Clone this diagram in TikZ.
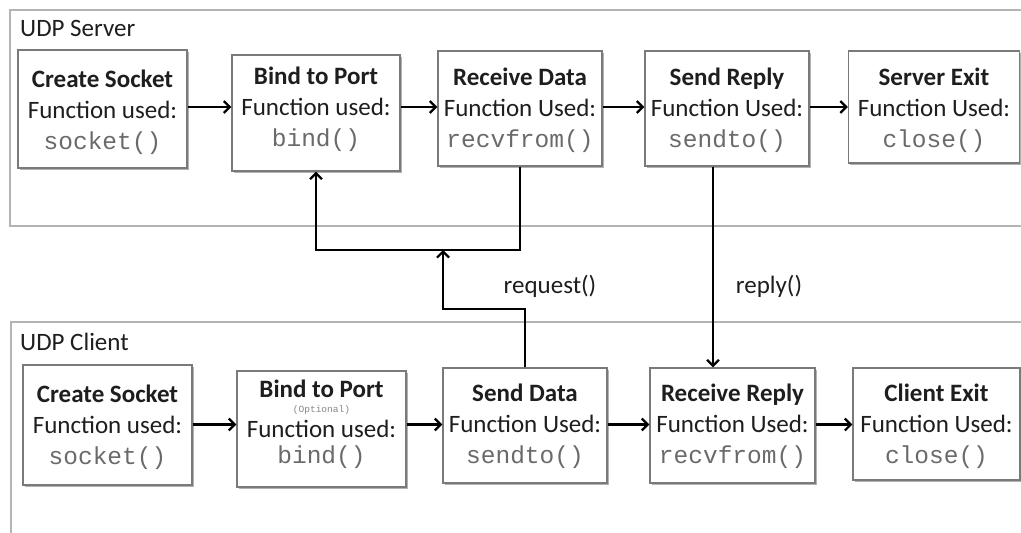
\documentclass[tikz,border=0pt]{standalone}
\usepackage{fontspec}
\setmainfont{Carlito}
\newfontfamily\codefont{Liberation Mono}
\usetikzlibrary{arrows.meta,shadows}
\definecolor{boxgray}{HTML}{7A7A7A}
\definecolor{framegray}{HTML}{B4B4B4}
\definecolor{codegray}{HTML}{6A6A6A}
\definecolor{inkblack}{HTML}{1E1E1E}
\newcommand\stitle[1]{{\bfseries #1}}
\newcommand\fcall[1]{{\codefont\fontsize{24.5}{31}\selectfont\color{codegray}#1}}
\newcommand\optnote[1]{{\codefont\fontsize{9.5}{11}\selectfont\color{codegray!80}#1}}
\tikzset{
  stepbox/.style={draw=boxgray, line width=1.3pt, fill=white, inner sep=0pt,
    drop shadow={shadow xshift=1.5pt, shadow yshift=-1.5pt, opacity=0.3, fill=black}},
  steptext/.style={inner sep=0pt, align=center, text=inkblack,
    font=\fontsize{25}{31}\selectfont},
  flow/.style={draw=black, line width=2.5pt,
    -{Straight Barb[length=6pt,width=12pt,line width=2.2pt]}},
  frameline/.style={draw=framegray, line width=1.4pt},
  caption/.style={font=\fontsize{25}{30}\selectfont, text=inkblack, inner sep=0pt},
}
\begin{document}
\begin{tikzpicture}[x=1pt,y=-1pt]
\useasboundingbox[fill=white] (0,0) rectangle (1021,533);

% group frames
\draw[frameline] (1021,10) -- (10,10) -- (10,226) -- (1021,226);
\draw[frameline] (1021,322) -- (11,322) -- (11,533);
\node[caption, anchor=base west] (serverlabel) at (20,36) {UDP Server};
\node[caption, anchor=base west] (clientlabel) at (20,350) {UDP Client};

% server steps: boxes
\node[stepbox, minimum width=169pt, minimum height=118pt] (sCreate) at (102.5,109) {};
\node[stepbox, minimum width=168pt, minimum height=116pt] (sBind) at (316,113) {};
\node[stepbox, minimum width=164pt, minimum height=115pt] (sRecv) at (520,108.5) {};
\node[stepbox, minimum width=164pt, minimum height=115pt] (sSend) at (727,108.5) {};
\node[stepbox, minimum width=171pt, minimum height=112pt] (sExit) at (934,107) {};
% server steps: labels
\node[steptext] (sCreateT) at (sCreate.center |- 0,112)
  {\stitle{Create Socket}\\Function used:\\\fcall{socket()}};
\node[steptext] (sBindT) at (sBind.center |- 0,109)
  {\stitle{Bind to Port}\\Function used:\\\fcall{bind()}};
\node[steptext] (sRecvT) at (sRecv.center |- 0,110)
  {\stitle{Receive Data}\\Function Used:\\\fcall{recvfrom()}};
\node[steptext] (sSendT) at (sSend.center |- 0,110)
  {\stitle{Send Reply}\\Function Used:\\\fcall{sendto()}};
\node[steptext] (sExitT) at (sExit.center |- 0,110)
  {\stitle{Server Exit}\\Function Used:\\\fcall{close()}};

% client steps: boxes
\node[stepbox, minimum width=169pt, minimum height=120pt] (cCreate) at (107.5,425) {};
\node[stepbox, minimum width=169pt, minimum height=116pt] (cBind) at (321.5,429) {};
\node[stepbox, minimum width=164pt, minimum height=115pt] (cSend) at (525,425.5) {};
\node[stepbox, minimum width=165pt, minimum height=115pt] (cRecv) at (732.5,425.5) {};
\node[stepbox, minimum width=167pt, minimum height=112pt] (cExit) at (936.5,424) {};
% client steps: labels
\node[steptext] (cCreateT) at (cCreate.center |- 0,427.5)
  {\stitle{Create Socket}\\Function used:\\\fcall{socket()}};
\node[steptext] (cBindT) at (cBind.center |- 0,424)
  {\stitle{Bind to Port}\\[-16pt]\optnote{(Optional)}\\[-6pt]Function used:\\[-5pt]\fcall{bind()}};
\node[steptext] (cSendT) at (cSend.center |- 0,426)
  {\stitle{Send Data}\\Function Used:\\\fcall{sendto()}};
\node[steptext] (cRecvT) at (cRecv.center |- 0,426)
  {\stitle{Receive Reply}\\Function Used:\\\fcall{recvfrom()}};
\node[steptext] (cExitT) at (cExit.center |- 0,426)
  {\stitle{Client Exit}\\Function Used:\\\fcall{close()}};

% sequence within each side
\coordinate (srow) at (0,107);
\coordinate (crow) at (0,424.5);
\draw[flow] (sCreate.east |- srow) -- (sBind.west |- srow);
\draw[flow] (sBind.east |- srow) -- (sRecv.west |- srow);
\draw[flow] (sRecv.east |- srow) -- (sSend.west |- srow);
\draw[flow] (sSend.east |- srow) -- (sExit.west |- srow);
\draw[flow] (cCreate.east |- crow) -- (cBind.west |- crow);
\draw[flow] (cBind.east |- crow) -- (cSend.west |- crow);
\draw[flow] (cSend.east |- crow) -- (cRecv.west |- crow);
\draw[flow] (cRecv.east |- crow) -- (cExit.west |- crow);

% request path from client to server
\coordinate (loopbus) at (0,250);
\coordinate (reqbend) at (0,309);
\coordinate (reqtip) at (443,250);
\draw[flow] (sRecv.south) -- (sRecv.south |- loopbus) -| (sBind.south);
\draw[flow] (cSend.north) -- (cSend.north |- reqbend) -| (reqtip);
\node[caption, anchor=base] (reqlabel) at (550,293) {request()};

% reply path from server to client
\coordinate (replyx) at (713,0);
\draw[flow] (sSend.south -| replyx) -- (cRecv.north -| replyx);
\node[caption, anchor=base] (replylabel) at (769,293) {reply()};
\end{tikzpicture}
\end{document}
